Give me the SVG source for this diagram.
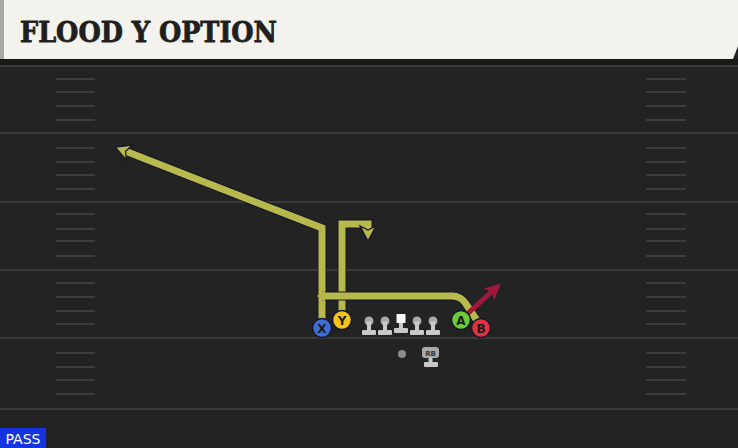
<svg xmlns="http://www.w3.org/2000/svg" width="738" height="448" viewBox="0 0 738 448">
<defs>
<style>
.fl{stroke:#3a3a3a;stroke-width:2}
.hs{stroke:#3c3c3c;stroke-width:2}
.rt{fill:none;stroke:#b7b94c;stroke-width:7;stroke-linejoin:miter}
.ro{fill:none;stroke:#15172a;stroke-width:9;stroke-linejoin:miter}
.rr{fill:none;stroke:#a0183a;stroke-width:5}
.lab{font-family:"DejaVu Sans","Liberation Sans",sans-serif;font-weight:bold;font-size:12px;fill:#1a1a1a;text-anchor:middle}
.ol{fill:#c9c9c9}
.oh{fill:#a8a8a8}
</style>
<marker id="ay" markerUnits="userSpaceOnUse" markerWidth="40" markerHeight="40" refX="0" refY="0" viewBox="-20 -20 40 40" orient="auto" overflow="visible">
<path d="M-10,-8 L5,0 L-10,8 L-6,0 Z" fill="#b7b94c" stroke="#15172a" stroke-width="1.3" stroke-linejoin="miter"/>
</marker>
<marker id="ar" markerUnits="userSpaceOnUse" markerWidth="40" markerHeight="40" refX="0" refY="0" viewBox="-20 -20 40 40" orient="auto" overflow="visible">
<path d="M-11,-8 L5,0 L-11,8 L-7,0 Z" fill="#a0183a"/>
</marker>
</defs>
<rect width="738" height="448" fill="#232323"/>
<g id="field">
<rect x="0" y="59" width="738" height="6" fill="#1a1a1a"/>
<line class="fl" x1="0" y1="66" x2="738" y2="66"/>
<line class="fl" x1="0" y1="133" x2="738" y2="133"/>
<line class="fl" x1="0" y1="202" x2="738" y2="202"/>
<line class="fl" x1="0" y1="270" x2="738" y2="270"/>
<line class="fl" x1="0" y1="338" x2="738" y2="338"/>
<line class="fl" x1="0" y1="409" x2="738" y2="409"/>
<g class="hs">
<path d="M56,79H95M56,92H95M56,106H95M56,120H95M56,148H95M56,162H95M56,175H95M56,189H95M56,214H95M56,229H95M56,241H95M56,256H95M56,283H95M56,297H95M56,311H95M56,324H95M56,353H95M56,367H95M56,380H95M56,394H95"/>
<path d="M646,79H686M646,92H686M646,106H686M646,120H686M646,148H686M646,162H686M646,175H686M646,189H686M646,214H686M646,229H686M646,241H686M646,256H686M646,283H686M646,297H686M646,311H686M646,324H686M646,353H686M646,367H686M646,380H686M646,394H686"/>
</g>
</g>
<g id="header">
<path d="M0,0 H738 V46 L733,59 H0 Z" fill="#f4f2ec"/>
<rect x="0" y="0" width="4" height="59" fill="#a9a9a4"/>
<text x="20" y="42" font-family="'DejaVu Serif',serif" font-weight="900" font-size="27" fill="#1f1f1f" stroke="#1f1f1f" stroke-width="0.8" textLength="257" lengthAdjust="spacingAndGlyphs">FLOOD Y OPTION</text>
</g>
<g id="connectors">
<path class="ro" d="M322,322 V228 L120,149"/>
<path class="rt" d="M322,322 V228 L120,149" marker-end="url(#ay)"/>
<path class="ro" d="M342,314 V224 H368 V236"/>
<path class="rt" d="M342,314 V224 H368 V236" marker-end="url(#ay)"/>
<path class="ro" d="M478,322 L466,304 Q461,296 452,296 H322"/>
<path class="rt" d="M478,322 L466,304 Q461,296 452,296 H322"/>
<path d="M325,290 L317,296 L325,302 Z" fill="#b7b94c"/>
<path class="rr" d="M466,315 L497,287" marker-end="url(#ar)"/>
</g>
<g id="X">
<circle cx="322" cy="328" r="9.5" fill="#3f6fd6" stroke="#15172a" stroke-width="1.5"/>
<text class="lab" x="322" y="332.5">X</text>
</g>
<g id="Y">
<circle cx="342" cy="320" r="9.5" fill="#f3c51c" stroke="#15172a" stroke-width="1.5"/>
<text class="lab" x="342" y="324.5">Y</text>
</g>
<g id="A">
<circle cx="461" cy="320" r="9.5" fill="#6ccb36" stroke="#15172a" stroke-width="1.5"/>
<text class="lab" x="461" y="324.5">A</text>
</g>
<g id="B">
<circle cx="481" cy="328" r="9.5" fill="#e2313f" stroke="#15172a" stroke-width="1.5"/>
<text class="lab" x="481" y="332.5">B</text>
</g>
<g id="line">
<g id="LT"><circle class="oh" cx="369" cy="321" r="4.5"/><rect class="ol" x="367" y="321" width="4" height="10"/><rect class="ol" x="362" y="330" width="14" height="5" rx="1"/></g>
<g id="LG"><circle class="oh" cx="385" cy="321" r="4.5"/><rect class="ol" x="383" y="321" width="4" height="10"/><rect class="ol" x="378" y="330" width="14" height="5" rx="1"/></g>
<g id="C"><rect x="396.5" y="314" width="9" height="9" fill="#f6f6f6"/><rect class="ol" x="399" y="323" width="4" height="6"/><rect class="ol" x="394" y="328" width="14" height="5" rx="1"/></g>
<g id="RG"><circle class="oh" cx="417" cy="321" r="4.5"/><rect class="ol" x="415" y="321" width="4" height="10"/><rect class="ol" x="410" y="330" width="14" height="5" rx="1"/></g>
<g id="RT"><circle class="oh" cx="433" cy="321" r="4.5"/><rect class="ol" x="431" y="321" width="4" height="10"/><rect class="ol" x="426" y="330" width="14" height="5" rx="1"/></g>
</g>
<g id="QB"><circle cx="402" cy="354" r="4" fill="#8c8c8c"/></g>
<g id="RB">
<rect x="422" y="347" width="17" height="11" rx="3" fill="#a9a9a9"/>
<text x="430.5" y="355.5" font-family="'DejaVu Sans',sans-serif" font-weight="bold" font-size="7" fill="#333" text-anchor="middle">RB</text>
<rect class="ol" x="428.5" y="358" width="4" height="5"/>
<rect class="ol" x="424" y="362" width="14" height="5" rx="1"/>
</g>
<g id="pass">
<rect x="0" y="428" width="46" height="20" fill="#1533e0"/>
<text x="23" y="444" font-family="'DejaVu Sans','Liberation Sans',sans-serif" font-size="14" fill="#ffffff" text-anchor="middle">PASS</text>
</g>
</svg>
